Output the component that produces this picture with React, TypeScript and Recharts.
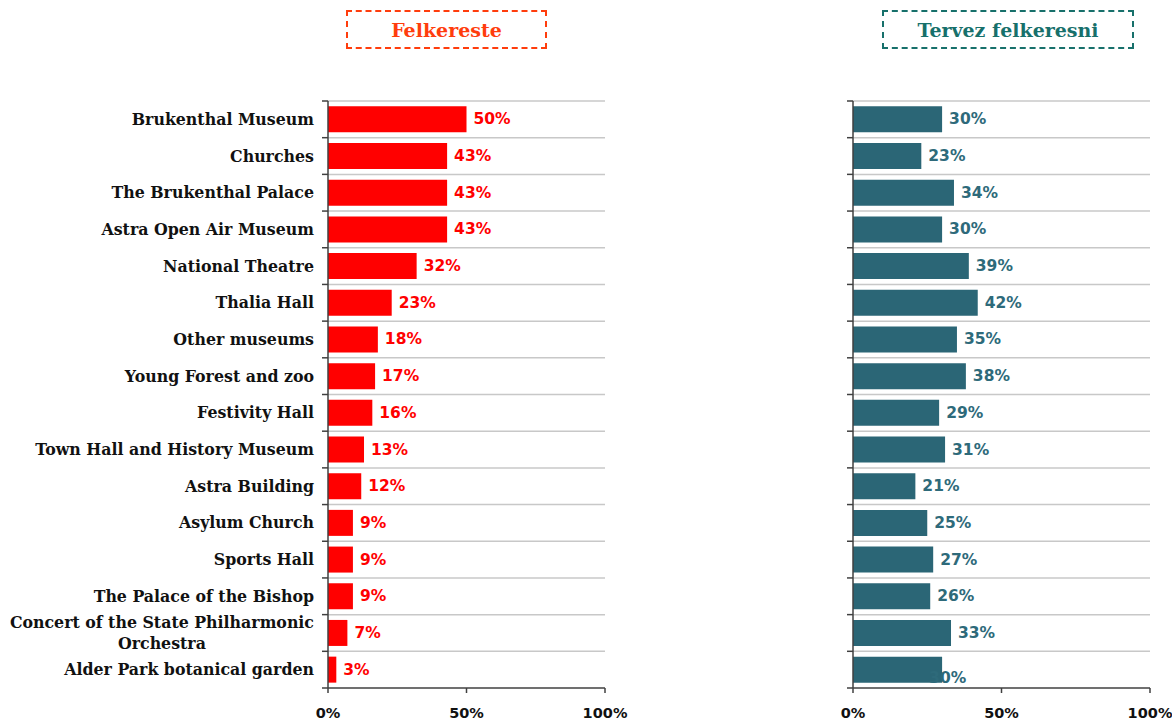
import React from "react";
import {
  BarChart,
  Bar,
  XAxis,
  YAxis,
  CartesianGrid,
  LabelList,
} from "recharts";

const categories = [
  "Brukenthal Museum",
  "Churches",
  "The Brukenthal Palace",
  "Astra Open Air Museum",
  "National Theatre",
  "Thalia Hall",
  "Other museums",
  "Young Forest and zoo",
  "Festivity Hall",
  "Town Hall and History Museum",
  "Astra Building",
  "Asylum Church",
  "Sports Hall",
  "The Palace of the Bishop",
  "Concert of the State Philharmonic\nOrchestra",
  "Alder Park botanical garden",
];
const visited = [50, 43, 43, 43, 32, 23, 18, 17, 16, 13, 12, 9, 9, 9, 7, 3];
const planned = [30, 23, 34, 30, 39, 42, 35, 38, 29, 31, 21, 25, 27, 26, 33, 30];
const xTicks = [0, 50, 100];
const titleLeft = "Felkereste";
const titleRight = "Tervez felkeresni";

const data = categories.map((c, i) => ({ name: c, visited: visited[i], planned: planned[i] }));

const H = 721;
const TOP = 101;
const XH = 33;
const PLOT_H = H - TOP - XH;
const HALF = PLOT_H / categories.length / 2;

const SERIF = "'DejaVu Serif', serif";
const SANS = "'DejaVu Sans', Verdana, sans-serif";
const AXIS_COLOR = "#404040";
const GRID_COLOR = "#c8c8c8";
const RED = "#ff0000";
const TEAL = "#2b6676";

let measureCtx: CanvasRenderingContext2D | null = null;
function measure(text: string, font: string) {
  if (!measureCtx) {
    const c = document.createElement("canvas");
    measureCtx = c.getContext("2d");
  }
  if (!measureCtx) return text.length * 9;
  measureCtx.font = font;
  return measureCtx.measureText(text).width;
}

const LABEL_FONT_SIZE = 15.8;

function makeYTick(showText: boolean, axisX: number) {
  return (props: any) => {
    const { y, payload, index } = props;
    const lines = String(payload.value).split("\n");
    const last = index === categories.length - 1;
    const textEnd = axisX - 14;
    let content: React.ReactNode = null;
    if (showText) {
      if (lines.length === 1) {
        content = (
          <text
            x={textEnd}
            y={y}
            textAnchor="end"
            dominantBaseline="central"
            fontFamily={SERIF}
            fontWeight="bold"
            fontSize={LABEL_FONT_SIZE}
            fill="#111"
          >
            {lines[0]}
          </text>
        );
      } else {
        const font = `bold ${LABEL_FONT_SIZE}px 'DejaVu Serif'`;
        const w = Math.max(...lines.map((l) => measure(l, font)));
        const cx = textEnd - w / 2;
        const lh = 21;
        const start = y - ((lines.length - 1) * lh) / 2;
        content = (
          <text
            textAnchor="middle"
            fontFamily={SERIF}
            fontWeight="bold"
            fontSize={LABEL_FONT_SIZE}
            fill="#111"
          >
            {lines.map((l, i) => (
              <tspan key={i} x={cx} y={start + i * lh} dominantBaseline="central">
                {l}
              </tspan>
            ))}
          </text>
        );
      }
    }
    return (
      <g>
        {content}
        <line x1={axisX - 6} x2={axisX} y1={y - HALF} y2={y - HALF} stroke={AXIS_COLOR} strokeWidth={1.5} />
        {last && (
          <line x1={axisX - 6} x2={axisX} y1={y + HALF} y2={y + HALF} stroke={AXIS_COLOR} strokeWidth={1.5} />
        )}
      </g>
    );
  };
}

const XTick = (props: any) => {
  const { x, y, payload } = props;
  return (
    <text
      x={x}
      y={y + 18}
      textAnchor="middle"
      dominantBaseline="central"
      fontFamily={SANS}
      fontWeight="bold"
      fontSize={14.5}
      fill="#111"
    >
      {payload.value}%
    </text>
  );
};

const gridGen = ({ offset }: any) => {
  const n = categories.length;
  const out: number[] = [];
  for (let i = 0; i < n; i++) out.push(offset.top + (i * offset.height) / n);
  return out;
};

function makeValueLabel(color: string, quirkLast: boolean) {
  return (props: any) => {
    const { x, y, width, height, value, index } = props;
    let tx = x + width + 7;
    let ty = y + height / 2;
    if (quirkLast && index === categories.length - 1) {
      tx = x + width - 13;
      ty = y + height / 2 + 8;
    }
    return (
      <text
        x={tx}
        y={ty}
        dominantBaseline="central"
        fontFamily={SANS}
        fontWeight="bold"
        fontSize={15.5}
        fill={color}
      >
        {value}%
      </text>
    );
  };
}

function TitleBox({ left, width, text, color }: { left: number; width: number; text: string; color: string }) {
  return (
    <div
      style={{
        position: "absolute",
        left,
        top: 10,
        width,
        height: 39,
        boxSizing: "border-box",
        border: `2px dashed ${color}`,
        display: "flex",
        alignItems: "center",
        justifyContent: "center",
        fontFamily: SERIF,
        fontWeight: "bold",
        fontSize: 19,
        color,
      }}
    >
      {text}
    </div>
  );
}

function Panel({
  left,
  width,
  yAxisWidth,
  rightMargin,
  dataKey,
  color,
  labelColor,
  showLabels,
  quirk,
}: {
  left: number;
  width: number;
  yAxisWidth: number;
  rightMargin: number;
  dataKey: string;
  color: string;
  labelColor: string;
  showLabels: boolean;
  quirk: boolean;
}) {
  return (
    <div style={{ position: "absolute", left, top: 0 }}>
      <BarChart
        width={width}
        height={H}
        data={data}
        layout="vertical"
        margin={{ top: TOP, right: rightMargin, bottom: 0, left: 0 }}
        barCategoryGap="14.5%"
      >
        <CartesianGrid
          horizontal={true}
          vertical={false}
          stroke={GRID_COLOR}
          strokeWidth={1.5}
          horizontalCoordinatesGenerator={gridGen}
        />
        <XAxis
          type="number"
          domain={[0, 100]}
          ticks={xTicks}
          height={XH}
          axisLine={{ stroke: AXIS_COLOR, strokeWidth: 1.5 }}
          tickLine={{ stroke: AXIS_COLOR, strokeWidth: 1.5 }}
          tickSize={5}
          tick={<XTick />}
          interval={0}
        />
        <YAxis
          type="category"
          dataKey="name"
          width={yAxisWidth}
          axisLine={{ stroke: AXIS_COLOR, strokeWidth: 1.5 }}
          tickLine={false}
          tick={makeYTick(showLabels, yAxisWidth)}
          interval={0}
        />
        <Bar dataKey={dataKey} fill={color} isAnimationActive={false}>
          <LabelList dataKey={dataKey} content={makeValueLabel(labelColor, quirk)} />
        </Bar>
      </BarChart>
    </div>
  );
}

export default function App() {
  return (
    <div style={{ position: "absolute", left: 0, top: 0, width: 1172, height: H, background: "#fff" }}>
      <Panel
        left={0}
        width={645}
        yAxisWidth={328}
        rightMargin={40}
        dataKey="visited"
        color={RED}
        labelColor={RED}
        showLabels={true}
        quirk={false}
      />
      <Panel
        left={700}
        width={472}
        yAxisWidth={153}
        rightMargin={22}
        dataKey="planned"
        color={TEAL}
        labelColor="#2e6a7a"
        showLabels={false}
        quirk={true}
      />
      <TitleBox left={346} width={201} text={titleLeft} color="#ff3d0d" />
      <TitleBox left={882} width={252} text={titleRight} color="#17706b" />
    </div>
  );
}
